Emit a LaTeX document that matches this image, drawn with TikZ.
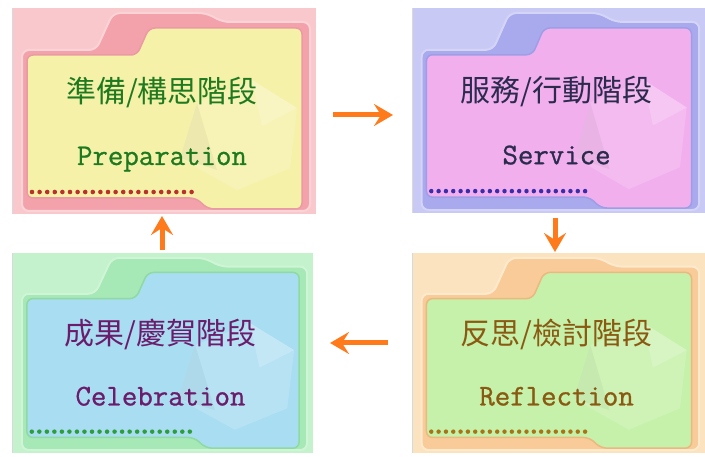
\documentclass[tikz,border=0pt]{standalone}
\usepackage{fontspec}
\usepackage{tikz}
\usetikzlibrary{arrows.meta}
\newfontfamily\cjkfont{Noto Sans CJK TC}
\newfontfamily\enfont[FakeBold=0.9]{Latin Modern Mono}

% colours of the four stages
\definecolor{prepouter}{HTML}{F9C8CC}
\definecolor{prepback}{HTML}{F3A2AB}
\definecolor{prepfront}{HTML}{F6F1A9}
\definecolor{prepline}{HTML}{E99AA3}
\definecolor{preptext}{HTML}{1F7A1F}
\definecolor{prepdot}{HTML}{B8322A}

\definecolor{servouter}{HTML}{C9C9F5}
\definecolor{servback}{HTML}{A9A9EE}
\definecolor{servfront}{HTML}{F2AFEE}
\definecolor{servline}{HTML}{9E9EE6}
\definecolor{servtext}{HTML}{2B2B4E}
\definecolor{servdot}{HTML}{3A2EA8}

\definecolor{celeouter}{HTML}{C3F2CC}
\definecolor{celeback}{HTML}{A6E8B6}
\definecolor{celefront}{HTML}{A9DDF2}
\definecolor{celeline}{HTML}{8FD9A2}
\definecolor{celetext}{HTML}{6B1D6B}
\definecolor{celedot}{HTML}{2E9E3A}

\definecolor{reflouter}{HTML}{FCE3BF}
\definecolor{reflback}{HTML}{F8CB98}
\definecolor{reflfront}{HTML}{C6F1AA}
\definecolor{reflline}{HTML}{EBB97F}
\definecolor{refltext}{HTML}{8A5A12}
\definecolor{refldot}{HTML}{A87418}

\definecolor{arroworange}{HTML}{FF7A1A}

\tikzset{
  zhlabel/.style={font=\cjkfont\fontsize{30}{30}\selectfont, inner sep=0pt},
  enlabel/.style={font=\enfont\fontsize{30}{30}\selectfont, inner sep=0pt, anchor=base},
  flow/.style={draw=arroworange, line width=5pt, -{Stealth[length=19pt,width=22pt,inset=7pt]}}
}

% #1,#2 top left, #3 width, #4 height, #5 colour prefix, #6 chinese, #7 english
\newcommand{\stage}[7]{%
\begin{scope}[shift={(#1,#2)},xscale={#3/304},yscale={#4/206}]
\fill[#5outer] (0,0) rectangle (304,206);
\draw[black!15] (0,0) -- (0,206);
\draw[draw=#5outer!80!white, line width=2pt, fill=#5back, rounded corners=7pt]
  (10,203) -- (10,42) -- (84,42) -- (101,5) -- (194,5) -- (211,14) -- (298,14) -- (298,203) -- cycle;
\draw[draw=#5line, line width=1.5pt, fill=#5front, rounded corners=6pt]
  (15,190) -- (15,47) -- (125,47) -- (137,20) -- (290,20) -- (290,201) -- (196,201) -- (184,190) -- cycle;
% faint crystal
\fill[white, fill opacity=0.16] (168,150) -- (185,95) -- (240,72) -- (285,100) -- (278,160) -- (225,182) -- cycle;
\fill[white, fill opacity=0.18] (240,72) -- (285,100) -- (250,118) -- cycle;
\fill[black, fill opacity=0.04] (185,95) -- (168,150) -- (205,162) -- cycle;
\node[zhlabel, text=#5text] (#5zh) at (150,84) {#6};
\node[enlabel, text=#5text] (#5en) at (150,157) {#7};
\foreach \i in {0,...,21} \fill[#5dot] (20+7.6*\i,184) circle [radius=2.3pt];
\end{scope}}

\begin{document}
\begin{tikzpicture}[x=1pt,y=-1pt]
\useasboundingbox (0,0) rectangle (705,457);
\fill[white] (0,0) rectangle (705,457);

\stage{12}{8}{304}{206}{prep}{準備/構思階段}{Preparation}
\stage{412}{8}{293}{205}{serv}{服務/行動階段}{Service}
\stage{12}{253}{301}{200}{cele}{成果/慶賀階段}{Celebration}
\stage{412}{253}{293}{200}{refl}{反思/檢討階段}{Reflection}

% arrow ends
\coordinate (prep-out) at (333,115);
\coordinate (serv-in) at (393,115);
\coordinate (serv-out) at (555,218);
\coordinate (refl-in) at (555,252);
\coordinate (refl-out) at (388,343);
\coordinate (cele-in) at (330,343);
\coordinate (cele-out) at (162,250);
\coordinate (prep-in) at (162,216);

\draw[flow] (prep-out) -- (serv-in);
\draw[flow] (serv-out) -- (refl-in);
\draw[flow] (refl-out) -- (cele-in);
\draw[flow] (cele-out) -- (prep-in);
\end{tikzpicture}
\end{document}
